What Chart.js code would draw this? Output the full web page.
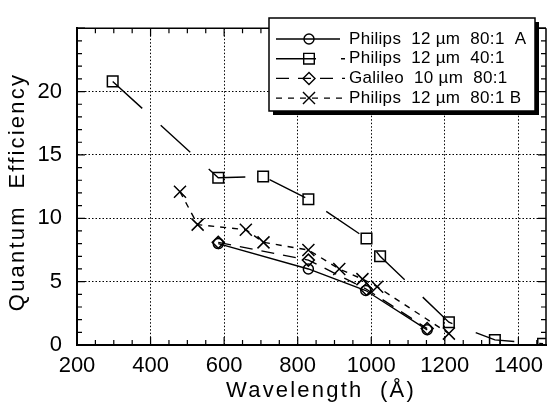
<!DOCTYPE html>
<html>
<head>
<meta charset="utf-8">
<script src="https://cdn.jsdelivr.net/npm/chart.js@4"></script>
<style>
  html, body { margin: 0; padding: 0; background: #fff; }
  #wrap { width: 556px; height: 406px; position: relative; }
</style>
</head>
<body>
<div id="wrap"><canvas id="myChart"></canvas></div>
<script>
// data
const seriesNames = ['Philips  12 µm  80:1  A', 'Philips  12 µm  40:1', 'Galileo  10 µm  80:1', 'Philips  12 µm  80:1 B'];

const wlA = [584, 829, 985, 1152];
const qeA = [8.0, 6.0, 4.3, 1.2];

const wlB = [297, 584, 706, 829, 987, 1024, 1211, 1336, 1467];
const qeB = [20.8, 13.2, 13.3, 11.5, 8.4, 7.0, 1.8, 0.4, 0.1];

const wlG = [584, 829, 987, 1152];
const qeG = [8.1, 6.7, 4.4, 1.3];

const wlX = [480, 528, 659, 707, 829, 913, 976, 1016, 1211];
const qeX = [12.1, 9.5, 9.1, 8.1, 7.5, 6.0, 5.2, 4.6, 0.9];

const xTicks = [200, 400, 600, 800, 1000, 1200, 1400];
const yTicks = [0, 5, 10, 15, 20];

const xTitle = 'Wavelength  (Å)';
const yTitle = 'Quantum  Efficiency';

const FONT = 'Liberation Sans, Arial, Helvetica, sans-serif';

const toXY = (xs, ys) => xs.map((x, i) => ({x: x, y: ys[i]}));

// line/marker styles, shared with the legend
const styles = [
  {dash: [], point: 'circle', r: 5},
  {dash: [40, 25], point: 'rect', r: 7.5},
  {dash: [13, 9], point: 'rectRot', r: 6},
  {dash: [6, 6], point: 'crossRot', r: 8.5}
];

function mkSet(i, xs, ys) {
  const s = styles[i];
  return {
    label: seriesNames[i],
    data: toXY(xs, ys),
    borderColor: '#000',
    borderWidth: 1.4,
    borderDash: s.dash,
    pointStyle: s.point,
    pointRadius: s.r,
    pointBorderWidth: 1.5,
    pointBorderColor: '#000',
    pointBackgroundColor: 'rgba(0,0,0,0)',
    fill: false,
    tension: 0
  };
}

// frame on top/right, the little inside ticks, and the spaced-out axis titles
const frameTicks = {
  id: 'frameTicks',
  afterDatasetsDraw(chart) {
    const {ctx, chartArea: a, scales: {x, y}} = chart;
    ctx.save();
    ctx.strokeStyle = '#000';
    ctx.lineWidth = 1.5;
    ctx.beginPath();
    ctx.moveTo(a.left, a.top); ctx.lineTo(a.right, a.top);
    ctx.moveTo(a.right, a.top); ctx.lineTo(a.right, a.bottom);
    ctx.stroke();
    ctx.lineWidth = 1.2;
    ctx.beginPath();
    for (let v = 200; v <= 1475; v += 50) {
      const px = x.getPixelForValue(v);
      const len = v % 200 === 0 ? 8 : 5;
      ctx.moveTo(px, a.bottom); ctx.lineTo(px, a.bottom - len);
      ctx.moveTo(px, a.top); ctx.lineTo(px, a.top + len);
    }
    for (let v = 0; v <= 25; v += 1) {
      const py = y.getPixelForValue(v);
      const len = v % 5 === 0 ? 8 : 5;
      ctx.moveTo(a.left, py); ctx.lineTo(a.left + len, py);
      ctx.moveTo(a.right, py); ctx.lineTo(a.right - len, py);
    }
    ctx.stroke();

    // axis titles
    ctx.fillStyle = '#000';
    ctx.font = '22px ' + FONT;
    ctx.letterSpacing = '2.2px';
    ctx.textAlign = 'center';
    ctx.textBaseline = 'alphabetic';
    ctx.fillText(xTitle, 321, 397);
    ctx.translate(24, 192);
    ctx.rotate(-Math.PI / 2);
    ctx.fillText(yTitle, 0, 0);
    ctx.restore();
  }
};

function marker(ctx, type, cx, cy, r) {
  ctx.beginPath();
  if (type === 'circle') {
    ctx.arc(cx, cy, r, 0, Math.PI * 2);
  } else if (type === 'rect') {
    const h = r * Math.SQRT1_2;
    ctx.rect(cx - h, cy - h, 2 * h, 2 * h);
  } else if (type === 'rectRot') {
    ctx.moveTo(cx - r, cy); ctx.lineTo(cx, cy - r); ctx.lineTo(cx + r, cy); ctx.lineTo(cx, cy + r); ctx.closePath();
  } else {
    const h = r * Math.SQRT1_2;
    ctx.moveTo(cx - h, cy - h); ctx.lineTo(cx + h, cy + h);
    ctx.moveTo(cx + h, cy - h); ctx.lineTo(cx - h, cy + h);
  }
  ctx.stroke();
}

// boxed legend with shadow, inside the plot
const boxLegend = {
  id: 'boxLegend',
  afterDraw(chart) {
    const ctx = chart.ctx;
    const bx = 269, by = 18, bw = 266, bh = 93;
    ctx.save();
    ctx.fillStyle = '#000';
    ctx.fillRect(bx + 4, by + 4, bw, bh);
    ctx.fillStyle = '#fff';
    ctx.fillRect(bx, by, bw, bh);
    ctx.strokeStyle = '#000';
    ctx.lineWidth = 1.5;
    ctx.strokeRect(bx, by, bw, bh);
    ctx.font = '17px ' + FONT;
    ctx.letterSpacing = '0.3px';
    ctx.textBaseline = 'middle';
    chart.data.datasets.forEach((ds, i) => {
      const ry = 39 + i * 19.7;
      const s = styles[i];
      ctx.lineWidth = 1.4;
      ctx.setLineDash(s.dash);
      ctx.beginPath();
      ctx.moveTo(276, ry); ctx.lineTo(i === 0 ? 340 : 345, ry);
      ctx.stroke();
      ctx.setLineDash([]);
      marker(ctx, s.point, 309, ry, s.r);
      ctx.fillStyle = '#000';
      ctx.fillText(ds.label, 349, ry);
    });
    ctx.restore();
  }
};

const ctx = document.getElementById('myChart').getContext('2d');
const myChart = new Chart(ctx, {
  type: 'line',
  data: {
    datasets: [
      mkSet(0, wlA, qeA),
      mkSet(1, wlB, qeB),
      mkSet(2, wlG, qeG),
      mkSet(3, wlX, qeX)
    ]
  },
  options: {
    responsive: true,
    maintainAspectRatio: false,
    animation: false,
    layout: {padding: {top: 8, right: 4, left: 0, bottom: 0}},
    plugins: {legend: {display: false}, tooltip: {enabled: false}},
    scales: {
      x: {
        type: 'linear',
        min: 200,
        max: 1475,
        afterBuildTicks: s => { s.ticks = xTicks.map(v => ({value: v})); },
        afterFit: s => { s.height = 61; },
        ticks: {color: '#000', font: {family: FONT, size: 22}, padding: 8, maxRotation: 0,
                callback: v => String(v)},
        grid: {color: '#000', lineWidth: 1, drawTicks: false},
        border: {color: '#000', width: 2, dash: [1.5, 2]}
      },
      y: {
        min: 0,
        max: 25,
        afterBuildTicks: s => { s.ticks = yTicks.map(v => ({value: v})); },
        afterFit: s => { s.width = 77; },
        ticks: {color: '#000', font: {family: FONT, size: 22}, padding: 15,
                callback: v => String(v)},
        grid: {color: '#000', lineWidth: 1, drawTicks: false},
        border: {color: '#000', width: 2, dash: [1.5, 2]}
      }
    }
  },
  plugins: [frameTicks, boxLegend]
});
</script>
</body>
</html>
